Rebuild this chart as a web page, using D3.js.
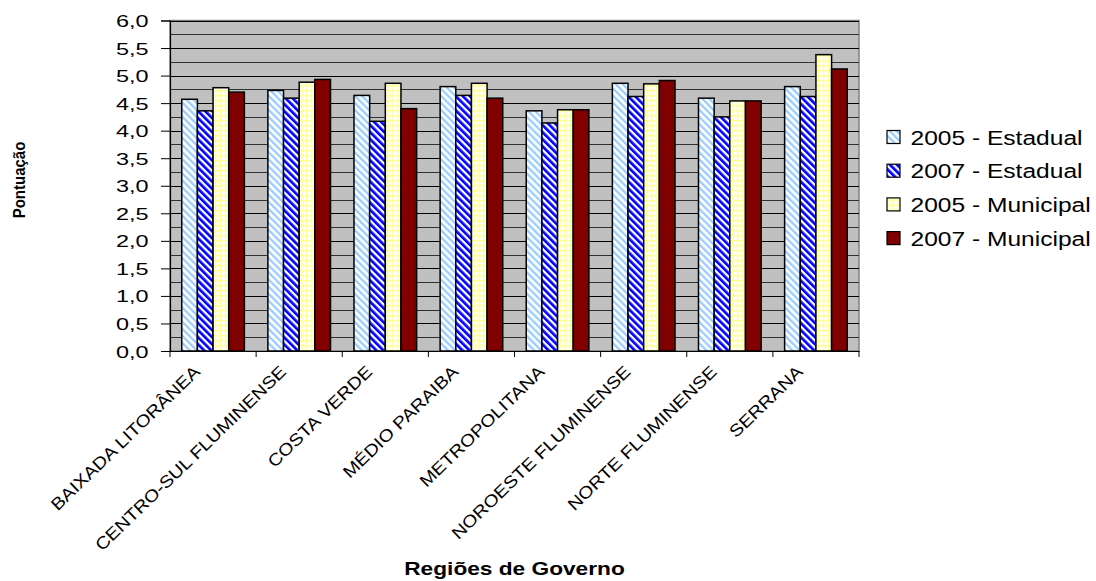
<!DOCTYPE html>
<html>
<head>
<meta charset="utf-8">
<script src="https://cdn.jsdelivr.net/npm/d3@7"></script>
<style>
  body { margin: 0; background: #fff; }
  text { font-family: "Liberation Sans", Arial, sans-serif; fill: #000; }
</style>
</head>
<body>
<div class="board"></div>
<script>
// chart data
var regions = ["BAIXADA LITORÂNEA", "CENTRO-SUL FLUMINENSE", "COSTA VERDE", "MÉDIO PARAIBA",
  "METROPOLITANA", "NOROESTE FLUMINENSE", "NORTE FLUMINENSE", "SERRANA"];
var seriesNames = ["2005 - Estadual", "2007 - Estadual", "2005 - Municipal", "2007 - Municipal"];
var estadual2005 = [4.57, 4.73, 4.64, 4.80, 4.36, 4.86, 4.59, 4.80];
var estadual2007 = [4.36, 4.59, 4.17, 4.64, 4.14, 4.62, 4.25, 4.62];
var municipal2005 = [4.78, 4.88, 4.86, 4.86, 4.38, 4.85, 4.54, 5.38];
var municipal2007 = [4.70, 4.93, 4.40, 4.59, 4.38, 4.91, 4.54, 5.12];
var yTicks = [0, 0.5, 1, 1.5, 2, 2.5, 3, 3.5, 4, 4.5, 5, 5.5, 6];
var yGrid = d3.range(0, 6.01, 0.25);

var seriesValues = [estadual2005, estadual2007, municipal2005, municipal2007];

var opt = {
  width: 1096, height: 581,
  left: 170, right: 859, top: 20.5, bottom: 351
};

var svg = d3.select(".board").append("svg")
  .attr("width", opt.width)
  .attr("height", opt.height);

// fill patterns (downward diagonals + small grid)
var defs = svg.append("defs");

var p1 = defs.append("pattern").attr("id", "pE05")
  .attr("width", 5).attr("height", 5)
  .attr("patternUnits", "userSpaceOnUse")
  .attr("patternTransform", "rotate(-45)");
p1.append("rect").attr("width", 5).attr("height", 5).attr("fill", "#fff");
p1.append("rect").attr("width", 2.3).attr("height", 5).attr("fill", "#99CCFF");

var p2 = defs.append("pattern").attr("id", "pE07")
  .attr("width", 5).attr("height", 5)
  .attr("patternUnits", "userSpaceOnUse")
  .attr("patternTransform", "rotate(-45)");
p2.append("rect").attr("width", 5).attr("height", 5).attr("fill", "#fff");
p2.append("rect").attr("width", 2.7).attr("height", 5).attr("fill", "#0000FF");

var p3 = defs.append("pattern").attr("id", "pM05")
  .attr("width", 5).attr("height", 5)
  .attr("patternUnits", "userSpaceOnUse");
p3.append("rect").attr("width", 5).attr("height", 5).attr("fill", "#FFFF99");
p3.append("rect").attr("x", 1.5).attr("y", 1.5).attr("width", 3.5).attr("height", 3.5).attr("fill", "#fff");

var fills = ["url(#pE05)", "url(#pE07)", "url(#pM05)", "#800000"];

// scales
var x = d3.scaleBand().domain(regions).range([opt.left, opt.right]);
var bw = x.bandwidth() / 5.5;
var xs = d3.scaleBand().domain(d3.range(4))
  .range([bw * 0.75, x.bandwidth() - bw * 0.75]);
var y = d3.scaleLinear().domain([0, 6]).range([opt.bottom, opt.top]);

// plot area
svg.append("rect")
  .attr("x", opt.left).attr("y", opt.top)
  .attr("width", opt.right - opt.left).attr("height", opt.bottom - opt.top)
  .attr("fill", "#C0C0C0")
  .attr("stroke", "#808080").attr("stroke-width", 1.5);

svg.append("g").selectAll("line")
  .data(yGrid.filter(v => v > 0))
  .enter().append("line")
  .attr("x1", opt.left).attr("x2", opt.right)
  .attr("y1", d => Math.round(y(d)) + 0.5).attr("y2", d => Math.round(y(d)) + 0.5)
  .attr("stroke", d => (Math.round(d * 4) % 2 == 0) ? "#000" : "#303030")
  .attr("stroke-width", 1);

// bars
var groups = svg.append("g").selectAll("g")
  .data(regions)
  .enter().append("g")
  .attr("transform", d => `translate(${x(d)},0)`);

groups.selectAll("rect")
  .data((d, i) => seriesValues.map((s, k) => ({k: k, v: s[i]})))
  .enter().append("rect")
  .attr("x", d => xs(d.k))
  .attr("y", d => y(d.v))
  .attr("width", xs.bandwidth())
  .attr("height", d => y(0) - y(d.v))
  .attr("fill", d => fills[d.k])
  .attr("stroke", "#000")
  .attr("stroke-width", 1.5);

// y axis
var yAxis = svg.append("g")
  .attr("transform", `translate(${opt.left},0)`)
  .call(d3.axisLeft(y).tickValues(yTicks).tickSize(9).tickFormat(d => d3.format(".1f")(d).replace(".", ",")));
yAxis.select(".domain").attr("stroke", "#000").attr("stroke-width", 1.2);
yAxis.selectAll(".tick line").attr("stroke", "#000");
yAxis.selectAll(".tick text")
  .attr("x", 0).attr("dy", 0)
  .style("font-size", "16.5px")
  .attr("text-anchor", "end")
  .attr("transform", "translate(-21.5,6) scale(1.42,1)");

// x axis
var xAxis = svg.append("g")
  .attr("transform", `translate(0,${opt.bottom})`)
  .call(d3.axisBottom(x).tickSize(0).tickFormat(""));
xAxis.select(".domain").attr("stroke", "#000").attr("stroke-width", 1.2);

svg.append("g").selectAll("line")
  .data(regions.map(d => x(d)).concat([opt.right]))
  .enter().append("line")
  .attr("x1", d => d).attr("x2", d => d)
  .attr("y1", opt.bottom).attr("y2", opt.bottom + 6)
  .attr("stroke", "#000");

svg.append("g").selectAll("text")
  .data(regions)
  .enter().append("text")
  .attr("text-anchor", "end")
  .style("font-size", "17px")
  .attr("transform", d => `translate(${x(d) + x.bandwidth() / 2 - 12},373) rotate(-44) scale(1.15,1)`)
  .text(d => d);

// axis titles
svg.append("text")
  .attr("transform", "translate(25,180) rotate(-90) scale(1,1.08)")
  .attr("text-anchor", "middle")
  .style("font-size", "15px").style("font-weight", "bold")
  .text("Pontuação");

svg.append("text")
  .attr("transform", `translate(${(opt.left + opt.right) / 2},575) scale(1.26,1)`)
  .attr("text-anchor", "middle")
  .style("font-size", "18px").style("font-weight", "bold")
  .text("Regiões de Governo");

// legend
var legend = svg.append("g").selectAll("g")
  .data(seriesNames)
  .enter().append("g")
  .attr("transform", (d, i) => `translate(887,${137 + i * 33.7})`);

legend.append("rect")
  .attr("x", 0).attr("y", -6.5)
  .attr("width", 13).attr("height", 13)
  .attr("fill", (d, i) => fills[i])
  .attr("stroke", "#000").attr("stroke-width", 1.2);

legend.append("text")
  .attr("transform", "translate(23.5,7.5) scale(1.17,1)")
  .style("font-size", "21px")
  .text(d => d);
</script>
</body>
</html>
